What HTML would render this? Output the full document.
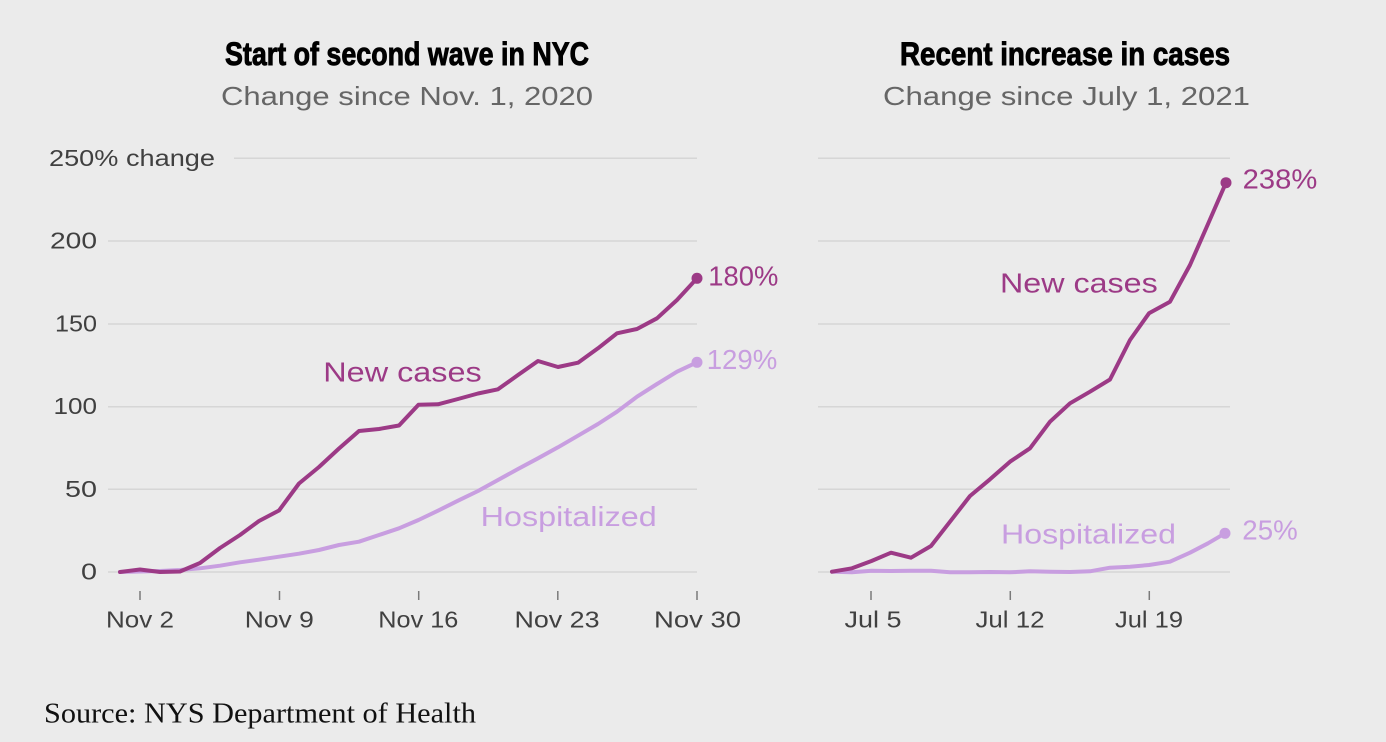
<!DOCTYPE html>
<html>
<head>
<meta charset="utf-8">
<style>
  html, body { margin: 0; padding: 0; background: #ebebeb; }
  body { width: 1386px; height: 742px; overflow: hidden; }
  svg { display: block; }
  .title { font-family: "Liberation Sans Narrow", "Liberation Sans", sans-serif; font-weight: bold; font-size: 32px; fill: #000; stroke: #000; stroke-width: 0.9px; }
  .sub { font-family: "Liberation Sans", sans-serif; font-size: 26px; fill: #666; }
  .tick { font-family: "Liberation Sans", sans-serif; font-size: 23px; fill: #404040; }
  .ylab { font-family: "Liberation Sans", sans-serif; font-size: 23px; fill: #404040; }
  .lab { font-family: "Liberation Sans", sans-serif; font-size: 28px; }
  .src { font-family: "Liberation Serif", serif; font-size: 29px; fill: #111; }
</style>
</head>
<body>
<svg width="1386" height="742" viewBox="0 0 1386 742" xmlns="http://www.w3.org/2000/svg">
  <rect x="0" y="0" width="1386" height="742" fill="#ebebeb"/>

  <!-- Titles -->
  <text class="title" x="225" y="65" textLength="364" lengthAdjust="spacingAndGlyphs">Start of second wave in NYC</text>
  <text class="sub" x="221" y="105" textLength="372" lengthAdjust="spacingAndGlyphs">Change since Nov. 1, 2020</text>
  <text class="title" x="900" y="65" textLength="330" lengthAdjust="spacingAndGlyphs">Recent increase in cases</text>
  <text class="sub" x="883" y="105" textLength="367" lengthAdjust="spacingAndGlyphs">Change since July 1, 2021</text>

  <!-- Left gridlines -->
  <g stroke="#d6d6d6" stroke-width="1.5">
    <line x1="234" y1="158.3" x2="697" y2="158.3"/>
    <line x1="108" y1="241" x2="697" y2="241"/>
    <line x1="108" y1="324" x2="697" y2="324"/>
    <line x1="108" y1="406.7" x2="697" y2="406.7"/>
    <line x1="108" y1="489.3" x2="697" y2="489.3"/>
    <line x1="108" y1="572" x2="697" y2="572"/>
  </g>
  <!-- Right gridlines -->
  <g stroke="#d6d6d6" stroke-width="1.5">
    <line x1="818" y1="158.3" x2="1230" y2="158.3"/>
    <line x1="818" y1="241" x2="1230" y2="241"/>
    <line x1="818" y1="324" x2="1230" y2="324"/>
    <line x1="818" y1="406.7" x2="1230" y2="406.7"/>
    <line x1="818" y1="489.3" x2="1230" y2="489.3"/>
    <line x1="818" y1="572" x2="1230" y2="572"/>
  </g>

  <!-- Y labels -->
  <text class="ylab" x="49" y="166" textLength="166" lengthAdjust="spacingAndGlyphs">250% change</text>
  <text class="ylab" x="97" y="248.5" text-anchor="end" textLength="47" lengthAdjust="spacingAndGlyphs">200</text>
  <text class="ylab" x="97" y="331.5" text-anchor="end" textLength="42" lengthAdjust="spacingAndGlyphs">150</text>
  <text class="ylab" x="97" y="414.2" text-anchor="end" textLength="43.5" lengthAdjust="spacingAndGlyphs">100</text>
  <text class="ylab" x="97" y="496.8" text-anchor="end" textLength="32" lengthAdjust="spacingAndGlyphs">50</text>
  <text class="ylab" x="97" y="579.5" text-anchor="end" textLength="16" lengthAdjust="spacingAndGlyphs">0</text>

  <!-- X ticks -->
  <g stroke="#7a7a7a" stroke-width="1.5">
    <line x1="140" y1="591" x2="140" y2="600"/>
    <line x1="279.5" y1="591" x2="279.5" y2="600"/>
    <line x1="418.7" y1="591" x2="418.7" y2="600"/>
    <line x1="557.8" y1="591" x2="557.8" y2="600"/>
    <line x1="697" y1="591" x2="697" y2="600"/>
    <line x1="871" y1="591" x2="871" y2="600"/>
    <line x1="1010.3" y1="591" x2="1010.3" y2="600"/>
    <line x1="1149.3" y1="591" x2="1149.3" y2="600"/>
  </g>
  <g class="tick" text-anchor="middle">
    <text x="140" y="627.5" textLength="68" lengthAdjust="spacingAndGlyphs">Nov 2</text>
    <text x="279.3" y="627.5" textLength="69" lengthAdjust="spacingAndGlyphs">Nov 9</text>
    <text x="418.3" y="627.5" textLength="80" lengthAdjust="spacingAndGlyphs">Nov 16</text>
    <text x="557" y="627.5" textLength="85" lengthAdjust="spacingAndGlyphs">Nov 23</text>
    <text x="697.5" y="627.5" textLength="87" lengthAdjust="spacingAndGlyphs">Nov 30</text>
    <text x="873" y="627.5" textLength="57" lengthAdjust="spacingAndGlyphs">Jul 5</text>
    <text x="1010" y="627.5" textLength="69" lengthAdjust="spacingAndGlyphs">Jul 12</text>
    <text x="1149" y="627.5" textLength="68" lengthAdjust="spacingAndGlyphs">Jul 19</text>
  </g>

  <!-- Left series -->
  <polyline fill="none" stroke="#c89ee0" stroke-width="4" stroke-linejoin="round" stroke-linecap="round"
    points="120,572 140,571.5 160,571 180,570 200,568.3 220,565.7 240,562.3 259,559.7 279,556.7 299,553.7 319,550 339,545 359,541.7 379,535 399,528.3 418.5,520 438,510.7 458,500.7 478,491 498,480 518,469 538,458.3 558,447.3 578,435.7 598,424 617,411.7 637,396.7 657,384 677,371.7 697,362.3"/>
  <polyline fill="none" stroke="#9c3a86" stroke-width="4" stroke-linejoin="round" stroke-linecap="round"
    points="120,572 140,569.5 160,572 180,571.5 200,563 220,548 240,535 259,521 279,510.5 299,483.5 319,467 339,448.5 359,431 379,429 399,425.5 418.5,404.7 438,404.3 458,399 478,393.5 498,389.3 518,375 538,361 558,367 578,362.7 598,348.3 617,333.3 637,329 657,318.3 677,300 697,278.3"/>
  <circle cx="697" cy="278.3" r="5.5" fill="#9c3a86"/>
  <circle cx="697" cy="362.3" r="5.5" fill="#c89ee0"/>

  <!-- Right series -->
  <polyline fill="none" stroke="#c89ee0" stroke-width="4" stroke-linejoin="round" stroke-linecap="round"
    points="832,571.7 852,572.3 871.5,570.7 891,571 911,570.7 931,570.7 950,572.3 970,572.3 990,572 1010,572.3 1030,571.3 1050,571.7 1070,572 1090,571.3 1110,567.7 1130,566.7 1149,565 1170,561.7 1190,552.7 1208,543.3 1225,533.3"/>
  <polyline fill="none" stroke="#9c3a86" stroke-width="4" stroke-linejoin="round" stroke-linecap="round"
    points="832,571.7 852,568.3 871.5,561 891,552.7 911,557.7 931,546 950,521.7 970,496 990,479.3 1010,461.7 1030,448.3 1050,421.7 1070,403.3 1090,391.7 1110,379.5 1130,340 1149,313.3 1170,301.7 1190,265 1208,224 1226,182.7"/>
  <circle cx="1226" cy="182.7" r="5.5" fill="#9c3a86"/>
  <circle cx="1225" cy="533.3" r="5.5" fill="#c89ee0"/>

  <!-- Series labels -->
  <text class="lab" x="323.3" y="381.7" fill="#9c3a86" textLength="158.4" lengthAdjust="spacingAndGlyphs">New cases</text>
  <text class="lab" x="480.7" y="526" fill="#c89ee0" textLength="176" lengthAdjust="spacingAndGlyphs">Hospitalized</text>
  <text class="lab" x="708.3" y="285.7" fill="#9c3a86" textLength="70" lengthAdjust="spacingAndGlyphs">180%</text>
  <text class="lab" x="706.7" y="369" fill="#c89ee0" textLength="70.6" lengthAdjust="spacingAndGlyphs">129%</text>

  <text class="lab" x="1000" y="292.7" fill="#9c3a86" textLength="157.7" lengthAdjust="spacingAndGlyphs">New cases</text>
  <text class="lab" x="1001" y="543.3" fill="#c89ee0" textLength="175" lengthAdjust="spacingAndGlyphs">Hospitalized</text>
  <text class="lab" x="1242.7" y="188.3" fill="#9c3a86" textLength="74.6" lengthAdjust="spacingAndGlyphs">238%</text>
  <text class="lab" x="1242.3" y="539.3" fill="#c89ee0" textLength="55.4" lengthAdjust="spacingAndGlyphs">25%</text>

  <!-- Source -->
  <text class="src" x="44" y="722.5" textLength="432" lengthAdjust="spacingAndGlyphs">Source: NYS Department of Health</text>
</svg>
</body>
</html>
